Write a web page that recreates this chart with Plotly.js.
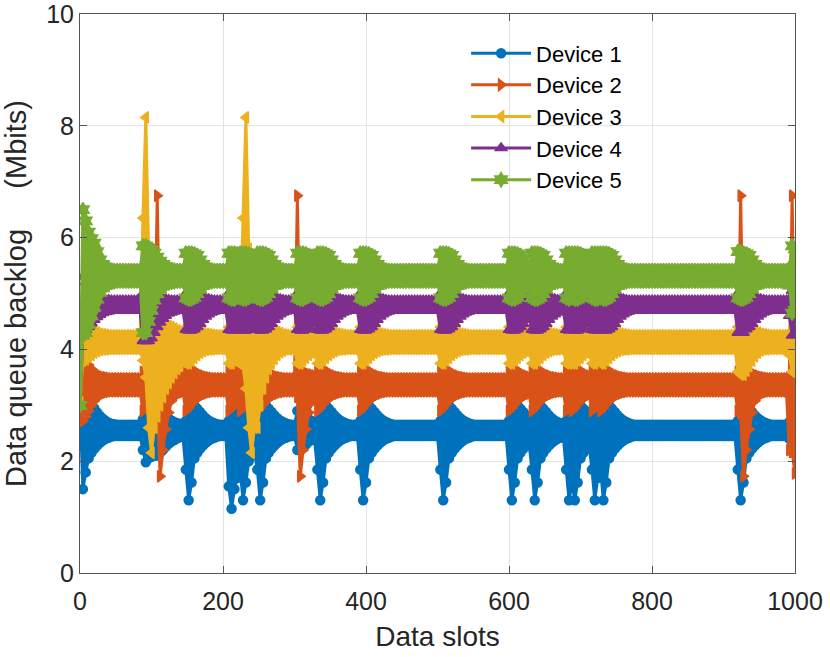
<!DOCTYPE html>
<html>
<head>
<meta charset="utf-8">
<script src="https://cdn.plot.ly/plotly-3.0.1.min.js"></script>
<style>html,body{margin:0;padding:0;background:#fff;}#chart{width:830px;height:657px;}</style>
</head>
<body>
<div id="chart"></div>
<script>
// Data slots: first slot and step between stored samples
const firstSlot = 0;
const slotStep = 4;

const seriesNames = ['Device 1', 'Device 2', 'Device 3', 'Device 4', 'Device 5'];

// Each device's queue oscillates quickly between an upper and a lower value;
const device1Upper = [
3.0,3.55,3.4,3.2,3.05,2.95,2.87,2.81,2.76,2.72,2.69,2.67,2.66,2.65,2.65,2.65,2.65,2.65,2.65,2.65,2.65,2.65,2.75,2.95,2.92,
2.9,2.9,2.9,2.88,2.84,2.8,2.76,2.73,2.7,2.68,2.67,2.66,2.72,2.92,3.05,3.0,2.94,2.88,2.82,2.77,2.73,2.7,2.68,2.66,2.65,
2.65,2.65,2.72,2.92,3.05,3.0,2.95,3.0,3.05,3.0,2.94,2.9,2.72,2.92,3.05,3.0,2.94,2.88,2.82,2.77,2.73,2.7,2.68,2.66,2.65,
2.65,2.9,2.9,2.85,2.8,2.75,2.72,2.7,2.72,2.92,3.05,3.0,2.94,2.88,2.82,2.77,2.73,2.7,2.68,2.66,2.65,2.65,2.65,2.72,2.92,
3.05,3.0,2.94,2.88,2.82,2.77,2.73,2.7,2.68,2.66,2.65,2.65,2.65,2.65,2.65,2.65,2.65,2.65,2.65,2.65,2.65,2.65,2.65,2.65,2.65,
2.65,2.72,2.92,3.05,3.0,2.94,2.88,2.82,2.77,2.73,2.7,2.68,2.66,2.65,2.65,2.65,2.65,2.65,2.65,2.65,2.65,2.65,2.65,2.65,2.65,
2.72,2.92,3.05,3.0,2.94,2.88,2.82,2.77,2.72,2.92,3.05,3.0,2.94,2.88,2.82,2.77,2.73,2.7,2.68,2.66,2.72,2.92,2.95,3.0,3.05,
3.0,2.94,2.88,2.82,2.9,2.95,3.05,2.72,2.92,3.05,3.0,2.94,2.88,2.82,2.77,2.73,2.7,2.68,2.66,2.65,2.65,2.65,2.65,2.65,2.65,
2.65,2.65,2.65,2.65,2.65,2.65,2.65,2.65,2.65,2.65,2.65,2.65,2.65,2.65,2.65,2.65,2.65,2.65,2.65,2.65,2.65,2.65,2.65,2.65,2.65,
2.65,2.65,2.65,2.65,2.65,2.72,2.92,3.05,3.0,2.94,2.88,2.82,2.77,2.73,2.7,2.68,2.66,2.65,2.65,2.65,2.65,2.65,2.65,2.7,3.05,
3.05];
const device1Lower = [
3.0,1.5,1.8,2.05,2.15,2.22,2.28,2.33,2.37,2.4,2.42,2.44,2.45,2.45,2.45,2.45,2.45,2.45,2.45,2.45,2.45,2.45,2.2,1.98,2.05,
2.08,2.1,2.1,2.15,2.2,2.26,2.31,2.35,2.38,2.41,2.43,2.44,1.85,1.3,1.62,2.05,2.15,2.22,2.28,2.33,2.37,2.4,2.42,2.44,2.45,
2.45,2.45,1.55,1.15,1.5,1.7,1.85,1.3,1.62,2.0,2.1,2.15,1.85,1.3,1.62,2.05,2.15,2.22,2.28,2.33,2.37,2.4,2.42,2.44,2.45,
2.45,2.2,2.2,2.25,2.3,2.35,2.38,2.4,1.85,1.3,1.62,2.05,2.15,2.22,2.28,2.33,2.37,2.4,2.42,2.44,2.45,2.45,2.45,1.85,1.3,
1.62,2.05,2.15,2.22,2.28,2.33,2.37,2.4,2.42,2.44,2.45,2.45,2.45,2.45,2.45,2.45,2.45,2.45,2.45,2.45,2.45,2.45,2.45,2.45,2.45,
2.45,1.85,1.3,1.62,2.05,2.15,2.22,2.28,2.33,2.37,2.4,2.42,2.44,2.45,2.45,2.45,2.45,2.45,2.45,2.45,2.45,2.45,2.45,2.45,2.45,
1.85,1.3,1.62,2.05,2.15,2.22,2.28,2.33,1.85,1.3,1.62,2.05,2.15,2.22,2.28,2.33,2.37,2.4,2.42,2.44,1.85,1.3,1.6,1.3,1.62,
2.05,2.15,2.22,2.28,1.85,1.3,1.7,1.85,1.3,1.62,2.05,2.15,2.22,2.28,2.33,2.37,2.4,2.42,2.44,2.45,2.45,2.45,2.45,2.45,2.45,
2.45,2.45,2.45,2.45,2.45,2.45,2.45,2.45,2.45,2.45,2.45,2.45,2.45,2.45,2.45,2.45,2.45,2.45,2.45,2.45,2.45,2.45,2.45,2.45,2.45,
2.45,2.45,2.45,2.45,2.45,1.85,1.3,1.62,2.05,2.15,2.22,2.28,2.33,2.37,2.4,2.42,2.44,2.45,2.45,2.45,2.45,2.45,2.45,2.4,2.25,
2.3];

const device2Upper = [
3.0,3.85,3.8,3.72,3.65,3.6,3.56,3.53,3.51,3.5,3.49,3.48,3.48,3.48,3.48,3.48,3.48,3.48,3.48,3.48,3.48,3.48,3.6,3.68,3.65,
3.62,3.58,6.75,3.6,3.6,3.58,3.56,3.55,3.53,3.52,3.51,3.5,3.6,3.68,3.65,3.62,3.58,3.55,3.53,3.51,3.5,3.49,3.48,3.48,3.48,
3.48,3.48,3.6,3.68,3.65,3.62,3.6,3.68,3.65,3.62,3.58,3.55,3.6,3.68,3.65,3.62,3.58,3.55,3.53,3.51,3.5,3.49,3.48,3.48,3.48,
3.48,6.75,3.6,3.6,3.58,3.56,3.55,3.53,3.6,3.68,3.65,3.62,3.58,3.55,3.53,3.51,3.5,3.49,3.48,3.48,3.48,3.48,3.48,3.6,3.68,
3.65,3.62,3.58,3.55,3.53,3.51,3.5,3.49,3.48,3.48,3.48,3.48,3.48,3.48,3.48,3.48,3.48,3.48,3.48,3.48,3.48,3.48,3.48,3.48,3.48,
3.48,3.6,3.68,3.65,3.62,3.58,3.55,3.53,3.51,3.5,3.49,3.48,3.48,3.48,3.48,3.48,3.48,3.48,3.48,3.48,3.48,3.48,3.48,3.48,3.48,
3.6,3.68,3.65,3.62,3.58,3.55,3.53,3.51,3.6,3.68,3.65,3.62,3.58,3.55,3.53,3.51,3.5,3.49,3.48,3.48,3.6,3.68,3.6,3.68,3.65,
3.62,3.58,3.55,3.53,3.6,3.68,3.65,3.6,3.68,3.65,3.62,3.58,3.55,3.53,3.51,3.5,3.49,3.48,3.48,3.48,3.48,3.48,3.48,3.48,3.48,
3.48,3.48,3.48,3.48,3.48,3.48,3.48,3.48,3.48,3.48,3.48,3.48,3.48,3.48,3.48,3.48,3.48,3.48,3.48,3.48,3.48,3.48,3.48,3.48,3.48,
3.48,3.48,3.48,3.48,3.48,3.6,6.75,3.62,3.6,3.58,3.56,3.55,3.53,3.51,3.5,3.49,3.48,3.48,3.48,3.48,3.48,3.48,3.48,3.5,6.75,
3.4];
const device2Lower = [
3.0,2.72,2.8,2.9,3.0,3.08,3.14,3.18,3.21,3.23,3.24,3.25,3.25,3.25,3.25,3.25,3.25,3.25,3.25,3.25,3.25,3.25,2.9,2.95,3.02,
3.08,3.12,3.15,1.73,2.2,2.57,2.87,3.08,3.15,3.2,3.22,3.24,2.9,2.95,3.02,3.08,3.12,3.16,3.19,3.21,3.23,3.24,3.25,3.25,3.25,
3.25,3.25,2.9,2.95,3.02,3.08,2.9,2.95,3.02,3.08,3.12,3.16,2.9,2.95,3.02,3.08,3.12,3.16,3.19,3.21,3.23,3.24,3.25,3.25,3.25,
3.25,3.15,1.73,2.2,2.57,2.87,3.05,3.1,2.9,2.95,3.02,3.08,3.12,3.16,3.19,3.21,3.23,3.24,3.25,3.25,3.25,3.25,3.25,2.9,2.95,
3.02,3.08,3.12,3.16,3.19,3.21,3.23,3.24,3.25,3.25,3.25,3.25,3.25,3.25,3.25,3.25,3.25,3.25,3.25,3.25,3.25,3.25,3.25,3.25,3.25,
3.25,2.9,2.95,3.02,3.08,3.12,3.16,3.19,3.21,3.23,3.24,3.25,3.25,3.25,3.25,3.25,3.25,3.25,3.25,3.25,3.25,3.25,3.25,3.25,3.25,
2.9,2.95,3.02,3.08,3.12,3.16,3.19,3.21,2.9,2.95,3.02,3.08,3.12,3.16,3.19,3.21,3.23,3.24,3.25,3.25,2.9,2.95,2.9,2.95,3.02,
3.08,3.12,3.16,3.19,2.9,2.95,3.02,2.9,2.95,3.02,3.08,3.12,3.16,3.19,3.21,3.23,3.24,3.25,3.25,3.25,3.25,3.25,3.25,3.25,3.25,
3.25,3.25,3.25,3.25,3.25,3.25,3.25,3.25,3.25,3.25,3.25,3.25,3.25,3.25,3.25,3.25,3.25,3.25,3.25,3.25,3.25,3.25,3.25,3.25,3.25,
3.25,3.25,3.25,3.25,3.25,2.9,2.85,1.73,2.2,2.57,2.87,3.08,3.15,3.2,3.22,3.24,3.25,3.25,3.25,3.25,3.25,3.25,3.25,2.2,2.16,
1.78];

const device3Upper = [
3.05,4.45,4.42,4.39,4.35,4.32,4.3,4.28,4.27,4.26,4.25,4.25,4.25,4.25,4.25,4.25,4.25,4.25,4.25,4.25,4.25,4.25,6.35,8.15,5.75,
4.55,4.55,4.5,4.5,4.48,4.45,4.42,4.4,4.37,4.34,4.31,4.29,4.4,4.45,4.42,4.39,4.35,4.32,4.3,4.28,4.27,4.26,4.25,4.25,4.25,
4.25,4.25,4.4,4.45,4.42,4.39,4.4,6.35,8.15,5.8,4.5,4.5,4.5,4.48,4.45,4.42,4.4,4.37,4.34,4.31,4.29,4.27,4.26,4.25,4.25,
4.25,4.4,4.45,4.42,4.39,4.35,4.32,4.3,4.4,4.45,4.42,4.39,4.35,4.32,4.3,4.28,4.27,4.26,4.25,4.25,4.25,4.25,4.25,4.4,4.45,
4.42,4.39,4.35,4.32,4.3,4.28,4.27,4.26,4.25,4.25,4.25,4.25,4.25,4.25,4.25,4.25,4.25,4.25,4.25,4.25,4.25,4.25,4.25,4.25,4.25,
4.25,4.4,4.45,4.42,4.39,4.35,4.32,4.3,4.28,4.27,4.26,4.25,4.25,4.25,4.25,4.25,4.25,4.25,4.25,4.25,4.25,4.25,4.25,4.25,4.25,
4.4,4.45,4.42,4.39,4.35,4.32,4.3,4.28,4.4,4.45,4.42,4.39,4.35,4.32,4.3,4.28,4.27,4.26,4.25,4.25,4.4,4.45,4.4,4.45,4.42,
4.39,4.35,4.32,4.3,4.4,4.45,4.42,4.4,4.45,4.42,4.39,4.35,4.32,4.3,4.28,4.27,4.26,4.25,4.25,4.25,4.25,4.25,4.25,4.25,4.25,
4.25,4.25,4.25,4.25,4.25,4.25,4.25,4.25,4.25,4.25,4.25,4.25,4.25,4.25,4.25,4.25,4.25,4.25,4.25,4.25,4.25,4.25,4.25,4.25,4.25,
4.25,4.25,4.25,4.25,4.25,4.4,4.45,4.45,4.42,4.39,4.35,4.32,4.3,4.28,4.27,4.26,4.25,4.25,4.25,4.25,4.25,4.25,4.25,4.3,4.6,
4.5];
const device3Lower = [
3.05,3.8,3.82,3.86,3.9,3.94,3.97,3.99,4.0,4.0,4.01,4.01,4.01,4.01,4.01,4.01,4.01,4.01,4.01,4.01,4.01,4.01,3.8,3.5,2.6,
2.15,2.6,2.8,3.0,3.15,3.3,3.4,3.5,3.58,3.65,3.72,3.78,3.75,3.75,3.8,3.85,3.9,3.94,3.97,3.99,4.0,4.0,4.01,4.01,4.01,
4.01,4.01,3.75,3.75,3.8,3.85,3.75,3.7,3.3,2.6,2.15,2.6,2.6,3.0,3.3,3.5,3.65,3.75,3.83,3.9,3.95,3.98,4.0,4.0,4.01,
4.01,3.75,3.75,3.8,3.85,3.9,3.94,3.97,3.75,3.75,3.8,3.85,3.9,3.94,3.97,3.99,4.0,4.0,4.01,4.01,4.01,4.01,4.01,3.75,3.75,
3.8,3.85,3.9,3.94,3.97,3.99,4.0,4.0,4.01,4.01,4.01,4.01,4.01,4.01,4.01,4.01,4.01,4.01,4.01,4.01,4.01,4.01,4.01,4.01,4.01,
4.01,3.75,3.75,3.8,3.85,3.9,3.94,3.97,3.99,4.0,4.0,4.01,4.01,4.01,4.01,4.01,4.01,4.01,4.01,4.01,4.01,4.01,4.01,4.01,4.01,
3.75,3.75,3.8,3.85,3.9,3.94,3.97,3.99,3.75,3.75,3.8,3.85,3.9,3.94,3.97,3.99,4.0,4.0,4.01,4.01,3.75,3.75,3.75,3.75,3.8,
3.85,3.9,3.94,3.97,3.75,3.75,3.8,3.75,3.75,3.8,3.85,3.9,3.94,3.97,3.99,4.0,4.0,4.01,4.01,4.01,4.01,4.01,4.01,4.01,4.01,
4.01,4.01,4.01,4.01,4.01,4.01,4.01,4.01,4.01,4.01,4.01,4.01,4.01,4.01,4.01,4.01,4.01,4.01,4.01,4.01,4.01,4.01,4.01,4.01,4.01,
4.01,4.01,4.01,4.01,4.01,3.6,3.55,3.55,3.62,3.7,3.8,3.88,3.94,3.98,4.0,4.0,4.01,4.01,4.01,4.01,4.01,4.01,4.01,3.9,3.6,
3.6];

const device4Upper = [
3.0,5.3,5.2,5.1,5.02,4.96,4.93,4.91,4.9,4.89,4.89,4.88,4.88,4.88,4.88,4.88,4.88,4.88,4.88,4.88,4.88,4.88,5.0,5.05,5.04,
5.02,4.99,4.96,4.93,4.91,4.9,4.89,4.88,4.88,4.88,4.88,4.88,5.0,5.05,5.04,5.02,4.99,4.96,4.93,4.91,4.9,4.89,4.88,4.88,4.88,
4.88,4.88,5.0,5.05,5.04,5.02,5.0,5.05,5.04,5.02,4.99,4.96,5.0,5.05,5.04,5.02,4.99,4.96,4.93,4.91,4.9,4.89,4.88,4.88,4.88,
4.88,5.0,5.05,5.04,5.02,4.99,4.96,4.93,5.0,5.05,5.04,5.02,4.99,4.96,4.93,4.91,4.9,4.89,4.88,4.88,4.88,4.88,4.88,5.0,5.05,
5.04,5.02,4.99,4.96,4.93,4.91,4.9,4.89,4.88,4.88,4.88,4.88,4.88,4.88,4.88,4.88,4.88,4.88,4.88,4.88,4.88,4.88,4.88,4.88,4.88,
4.88,5.0,5.05,5.04,5.02,4.99,4.96,4.93,4.91,4.9,4.89,4.88,4.88,4.88,4.88,4.88,4.88,4.88,4.88,4.88,4.88,4.88,4.88,4.88,4.88,
5.0,5.05,5.04,5.02,4.99,4.96,4.93,4.91,5.0,5.05,5.04,5.02,4.99,4.96,4.93,4.91,4.9,4.89,4.88,4.88,5.0,5.05,5.0,5.05,5.04,
5.02,4.99,4.96,4.93,5.0,5.05,5.04,5.0,5.05,5.04,5.02,4.99,4.96,4.93,4.91,4.9,4.89,4.88,4.88,4.88,4.88,4.88,4.88,4.88,4.88,
4.88,4.88,4.88,4.88,4.88,4.88,4.88,4.88,4.88,4.88,4.88,4.88,4.88,4.88,4.88,4.88,4.88,4.88,4.88,4.88,4.88,4.88,4.88,4.88,4.88,
4.88,4.88,4.88,4.88,4.88,5.0,5.05,5.04,5.02,4.99,4.96,4.93,4.91,4.9,4.89,4.88,4.88,4.88,4.88,4.88,4.88,4.88,4.88,4.9,5.05,
5.0];
const device4Lower = [
3.0,4.3,4.35,4.4,4.47,4.53,4.58,4.62,4.65,4.67,4.68,4.69,4.69,4.69,4.69,4.69,4.69,4.69,4.69,4.69,4.69,4.69,4.15,4.15,4.15,
4.2,4.3,4.4,4.48,4.55,4.6,4.64,4.66,4.68,4.69,4.69,4.69,4.35,4.34,4.34,4.36,4.4,4.46,4.53,4.59,4.63,4.66,4.68,4.69,4.69,
4.69,4.69,4.35,4.34,4.34,4.36,4.35,4.34,4.34,4.36,4.4,4.46,4.35,4.34,4.34,4.36,4.4,4.46,4.53,4.59,4.63,4.66,4.68,4.69,4.69,
4.69,4.35,4.34,4.34,4.36,4.4,4.46,4.53,4.35,4.34,4.34,4.36,4.4,4.46,4.53,4.59,4.63,4.66,4.68,4.69,4.69,4.69,4.69,4.35,4.34,
4.34,4.36,4.4,4.46,4.53,4.59,4.63,4.66,4.68,4.69,4.69,4.69,4.69,4.69,4.69,4.69,4.69,4.69,4.69,4.69,4.69,4.69,4.69,4.69,4.69,
4.69,4.35,4.34,4.34,4.36,4.4,4.46,4.53,4.59,4.63,4.66,4.68,4.69,4.69,4.69,4.69,4.69,4.69,4.69,4.69,4.69,4.69,4.69,4.69,4.69,
4.35,4.34,4.34,4.36,4.4,4.46,4.53,4.59,4.35,4.34,4.34,4.36,4.4,4.46,4.53,4.59,4.63,4.66,4.68,4.69,4.35,4.34,4.35,4.34,4.34,
4.36,4.4,4.46,4.53,4.35,4.34,4.34,4.35,4.34,4.34,4.36,4.4,4.46,4.53,4.59,4.63,4.66,4.68,4.69,4.69,4.69,4.69,4.69,4.69,4.69,
4.69,4.69,4.69,4.69,4.69,4.69,4.69,4.69,4.69,4.69,4.69,4.69,4.69,4.69,4.69,4.69,4.69,4.69,4.69,4.69,4.69,4.69,4.69,4.69,4.69,
4.69,4.69,4.69,4.69,4.69,4.3,4.3,4.3,4.36,4.4,4.46,4.53,4.59,4.63,4.66,4.68,4.69,4.69,4.69,4.69,4.69,4.69,4.69,4.6,4.25,
4.3];

const device5Upper = [
3.0,6.5,6.3,6.1,5.98,5.9,5.75,5.6,5.52,5.47,5.44,5.42,5.41,5.41,5.41,5.41,5.41,5.41,5.41,5.41,5.41,5.41,5.85,5.85,5.82,
5.78,5.72,5.65,5.58,5.52,5.48,5.45,5.43,5.42,5.41,5.41,5.41,5.72,5.72,5.72,5.71,5.68,5.6,5.52,5.47,5.44,5.42,5.41,5.41,5.41,
5.41,5.41,5.72,5.72,5.72,5.71,5.72,5.72,5.72,5.71,5.68,5.6,5.72,5.72,5.72,5.71,5.68,5.6,5.52,5.47,5.44,5.42,5.41,5.41,5.41,
5.41,5.72,5.72,5.72,5.71,5.68,5.6,5.52,5.72,5.72,5.72,5.71,5.68,5.6,5.52,5.47,5.44,5.42,5.41,5.41,5.41,5.41,5.41,5.72,5.72,
5.72,5.71,5.68,5.6,5.52,5.47,5.44,5.42,5.41,5.41,5.41,5.41,5.41,5.41,5.41,5.41,5.41,5.41,5.41,5.41,5.41,5.41,5.41,5.41,5.41,
5.41,5.72,5.72,5.72,5.71,5.68,5.6,5.52,5.47,5.44,5.42,5.41,5.41,5.41,5.41,5.41,5.41,5.41,5.41,5.41,5.41,5.41,5.41,5.41,5.41,
5.72,5.72,5.72,5.71,5.68,5.6,5.52,5.47,5.72,5.72,5.72,5.71,5.68,5.6,5.52,5.47,5.44,5.42,5.41,5.41,5.72,5.72,5.72,5.72,5.72,
5.71,5.68,5.6,5.52,5.72,5.72,5.72,5.72,5.72,5.72,5.71,5.68,5.6,5.52,5.47,5.44,5.42,5.41,5.41,5.41,5.41,5.41,5.41,5.41,5.41,
5.41,5.41,5.41,5.41,5.41,5.41,5.41,5.41,5.41,5.41,5.41,5.41,5.41,5.41,5.41,5.41,5.41,5.41,5.41,5.41,5.41,5.41,5.41,5.41,5.41,
5.41,5.41,5.41,5.41,5.41,5.75,5.75,5.72,5.71,5.68,5.6,5.52,5.47,5.44,5.42,5.41,5.41,5.41,5.41,5.41,5.41,5.41,5.41,5.45,5.85,
5.8];
const device5Lower = [
3.0,4.25,4.3,4.45,4.6,4.75,4.9,5.02,5.1,5.15,5.18,5.2,5.21,5.22,5.22,5.22,5.22,5.22,5.22,5.22,5.22,5.22,4.3,4.3,4.5,
4.7,4.88,5.0,5.08,5.13,5.17,5.19,5.2,5.21,5.22,5.22,5.22,4.92,4.9,4.9,4.93,5.0,5.08,5.14,5.18,5.2,5.21,5.22,5.22,5.22,
5.22,5.22,4.92,4.9,4.9,4.93,4.92,4.9,4.9,4.93,5.0,5.08,4.92,4.9,4.9,4.93,5.0,5.08,5.14,5.18,5.2,5.21,5.22,5.22,5.22,
5.22,4.92,4.9,4.9,4.93,5.0,5.08,5.14,4.92,4.9,4.9,4.93,5.0,5.08,5.14,5.18,5.2,5.21,5.22,5.22,5.22,5.22,5.22,4.92,4.9,
4.9,4.93,5.0,5.08,5.14,5.18,5.2,5.21,5.22,5.22,5.22,5.22,5.22,5.22,5.22,5.22,5.22,5.22,5.22,5.22,5.22,5.22,5.22,5.22,5.22,
5.22,4.92,4.9,4.9,4.93,5.0,5.08,5.14,5.18,5.2,5.21,5.22,5.22,5.22,5.22,5.22,5.22,5.22,5.22,5.22,5.22,5.22,5.22,5.22,5.22,
4.92,4.9,4.9,4.93,5.0,5.08,5.14,5.18,4.92,4.9,4.9,4.93,5.0,5.08,5.14,5.18,5.2,5.21,5.22,5.22,4.92,4.9,4.92,4.9,4.9,
4.93,5.0,5.08,5.14,4.92,4.9,4.9,4.92,4.9,4.9,4.93,5.0,5.08,5.14,5.18,5.2,5.21,5.22,5.22,5.22,5.22,5.22,5.22,5.22,5.22,
5.22,5.22,5.22,5.22,5.22,5.22,5.22,5.22,5.22,5.22,5.22,5.22,5.22,5.22,5.22,5.22,5.22,5.22,5.22,5.22,5.22,5.22,5.22,5.22,5.22,
5.22,5.22,5.22,5.22,5.22,4.92,4.9,4.9,4.93,5.0,5.08,5.14,5.18,5.2,5.21,5.22,5.22,5.22,5.22,5.22,5.22,5.22,5.22,5.15,4.65,
4.7];

const xTicks = [0, 200, 400, 600, 800, 1000];
const yTicks = [0, 2, 4, 6, 8, 10];

const uppers = [device1Upper, device2Upper, device3Upper, device4Upper, device5Upper];
const lowers = [device1Lower, device2Lower, device3Lower, device4Lower, device5Lower];
const colors = ['#0072BD', '#D95319', '#EDB120', '#7E2F8E', '#77AC30'];
const symbols = ['circle', 'triangle-right', 'triangle-left', 'triangle-up', 'hexagram'];
const sizes = [9, 10, 10, 10, 11];

const FONT = 'Liberation Sans, Arial, Helvetica, sans-serif';
const TXT = '#262626';

const traces = [];
for (let k = 0; k < 5; k++) {
  const common = {
    type: 'scatter', mode: 'lines+markers', legendgroup: 'g' + k,
    x0: firstSlot, dx: slotStep,
    line: {color: colors[k], width: 3, simplify: false},
    marker: {symbol: symbols[k], size: sizes[k], color: colors[k], line: {color: colors[k], width: 1.5}}
  };
  traces.push(Object.assign({}, common, {name: seriesNames[k], y: uppers[k], showlegend: true}));
  traces.push(Object.assign({}, common, {name: seriesNames[k], y: lowers[k], showlegend: false,
    fill: 'tonexty', fillcolor: colors[k]}));
}

const axisCommon = {
  showline: true, linecolor: '#555555', linewidth: 1, mirror: 'ticks',
  ticks: 'inside', ticklen: 7, tickcolor: '#555555', tickwidth: 1,
  showgrid: true, gridcolor: '#e3e3e3', gridwidth: 1, zeroline: false,
  ticklabeloverflow: 'allow',
  tickfont: {family: FONT, size: 25, color: TXT}
};

const layout = {
  width: 830, height: 657,
  margin: {l: 80, r: 35, t: 14, b: 84},
  paper_bgcolor: '#ffffff', plot_bgcolor: '#ffffff',
  showlegend: true,
  legend: {
    x: 0.54, y: 0.967, xanchor: 'left', yanchor: 'top',
    bgcolor: 'rgba(0,0,0,0)', borderwidth: 0,
    font: {family: FONT, size: 22, color: '#000000'},
    tracegroupgap: 0, itemwidth: 60
  },
  xaxis: Object.assign({}, axisCommon, {
    range: [0, 1000], tickvals: xTicks, ticktext: xTicks.map(String),
    ticklabelstandoff: 6,
    title: {text: 'Data slots', font: {family: FONT, size: 28, color: TXT}, standoff: 12}
  }),
  yaxis: Object.assign({}, axisCommon, {
    range: [0, 10], tickvals: yTicks, ticktext: yTicks.map(String),
    title: {text: 'Data queue backlog\u00a0\u00a0\u00a0\u00a0\u00a0(Mbits)', font: {family: FONT, size: 29, color: TXT}, standoff: 22}
  })
};

Plotly.newPlot('chart', traces, layout, {displayModeBar: false, staticPlot: true});
</script>
</body>
</html>
